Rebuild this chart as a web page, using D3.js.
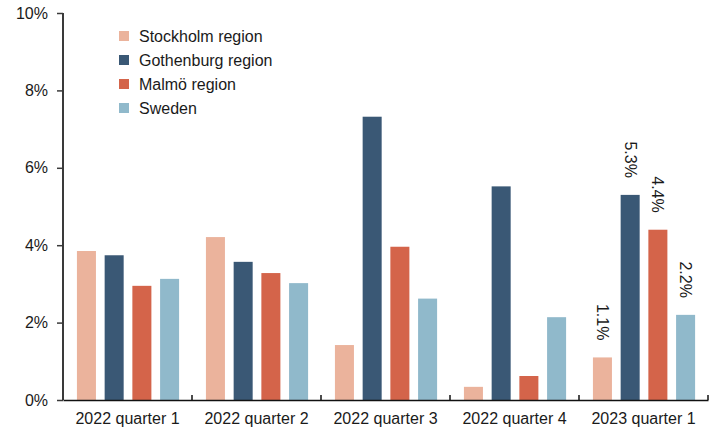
<!DOCTYPE html>
<html>
<head>
<meta charset="utf-8">
<script src="https://cdn.jsdelivr.net/npm/d3@7"></script>
<style>
  body { margin: 0; background: #fff; }
  text { font-family: "Liberation Sans", Arial, sans-serif; fill: #1a1a1a; }
</style>
</head>
<body>
<div id="chart"></div>
<script>
var quarters = ["2022 quarter 1", "2022 quarter 2", "2022 quarter 3", "2022 quarter 4", "2023 quarter 1"];
var regions = ["Stockholm region", "Gothenburg region", "Malmö region", "Sweden"];
var stockholm = [3.85, 4.21, 1.42, 0.34, 1.1];
var gothenburg = [3.74, 3.57, 7.32, 5.52, 5.3];
var malmo = [2.95, 3.28, 3.96, 0.62, 4.4];
var sweden = [3.13, 3.02, 2.62, 2.14, 2.2];
var yTicks = [0, 2, 4, 6, 8, 10];
var labelled = "2023 quarter 1";

var colors = ["#ebb39c", "#3a5875", "#d4644a", "#90b9cb"];
var series = [stockholm, gothenburg, malmo, sweden];

var width = 716, height = 432;
var margin = {top: 13, right: 8, bottom: 32, left: 63};

var svg = d3.select('#chart')
  .append('svg')
  .attr('width', width)
  .attr('height', height);

var x0 = d3.scaleBand()
  .domain(quarters)
  .range([margin.left, width - margin.right]);

var bw = x0.bandwidth();
var x1 = d3.scaleBand()
  .domain(regions)
  .range([bw * 0.108, bw * 0.9])
  .paddingInner(0.314);

var y = d3.scaleLinear()
  .domain([0, 10])
  .range([height - margin.bottom, margin.top]);

var color = d3.scaleOrdinal().domain(regions).range(colors);

var rows = [];
quarters.forEach(function(q, i) {
  regions.forEach(function(r, j) {
    rows.push({q: q, r: r, v: series[j][i]});
  });
});

svg.selectAll('rect.bar')
  .data(rows)
  .enter()
  .append('rect')
  .attr('class', 'bar')
  .attr('x', function(d) { return x0(d.q) + x1(d.r); })
  .attr('y', function(d) { return y(d.v); })
  .attr('width', x1.bandwidth())
  .attr('height', function(d) { return y(0) - y(d.v); })
  .attr('fill', function(d) { return color(d.r); });

// value labels, rotated, on the last quarter only
svg.selectAll('text.val')
  .data(rows.filter(function(d) { return d.q === labelled; }))
  .enter()
  .append('text')
  .attr('class', 'val')
  .attr('transform', function(d) {
    var cx = x0(d.q) + x1(d.r) + x1.bandwidth() / 2;
    return 'translate(' + cx + ',' + (y(d.v) - 17) + ') rotate(90)';
  })
  .attr('text-anchor', 'end')
  .attr('dy', '0.35em')
  .style('font-size', '16px')
  .text(function(d) { return d.v.toFixed(1) + '%'; });

// y axis
var yAxis = svg.append('g')
  .attr('transform', 'translate(' + margin.left + ',0)')
  .call(d3.axisLeft(y).tickValues(yTicks).tickSize(6).tickPadding(9)
    .tickFormat(function(d) { return d + '%'; }));
yAxis.select('.domain').attr('stroke', '#3a3a3a').attr('stroke-width', 2)
  .attr('d', 'M0,' + y(10) + 'V' + y(0));
yAxis.selectAll('.tick line').attr('stroke', '#3a3a3a').attr('stroke-width', 1.5);
yAxis.selectAll('.tick text').style('font-size', '16px').attr('fill', '#1a1a1a');

// x axis
var xAxis = svg.append('g')
  .attr('transform', 'translate(0,' + y(0) + ')')
  .call(d3.axisBottom(x0).tickSize(0).tickPadding(13));
xAxis.select('.domain').attr('stroke', '#111').attr('stroke-width', 1.5);
xAxis.selectAll('.tick text').style('font-size', '16px').attr('fill', '#1a1a1a');

var bounds = quarters.map(function(q) { return x0(q); }).concat([x0.range()[1]]);
xAxis.selectAll('line.sep')
  .data(bounds.slice(1))
  .enter()
  .append('line')
  .attr('class', 'sep')
  .attr('x1', function(d) { return d; })
  .attr('x2', function(d) { return d; })
  .attr('y1', 0)
  .attr('y2', -5)
  .attr('stroke', '#111')
  .attr('stroke-width', 1.5);

// legend
var legend = svg.selectAll('.legend')
  .data(regions)
  .enter()
  .append('g')
  .attr('class', 'legend')
  .attr('transform', function(d, i) {
    return 'translate(119,' + (36 + i * 24) + ')';
  });

legend.append('rect')
  .attr('x', 0)
  .attr('y', -5)
  .attr('width', 10)
  .attr('height', 10)
  .attr('fill', color);

legend.append('text')
  .attr('x', 20)
  .attr('dy', '0.35em')
  .style('font-size', '16px')
  .text(function(d) { return d; });
</script>
</body>
</html>
